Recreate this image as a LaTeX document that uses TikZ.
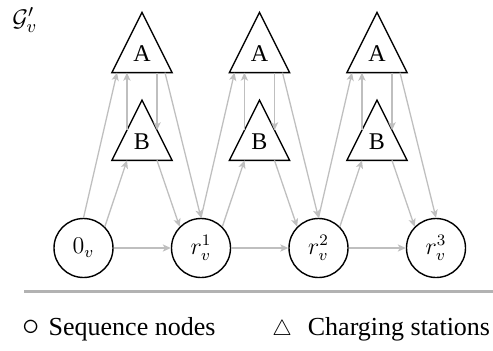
\documentclass[tikz,border=0pt]{standalone}
\usepackage{fontspec}
\setmainfont{Liberation Serif}
\usetikzlibrary{arrows.meta,calc}
\begin{document}
\begin{tikzpicture}[x=0.5pt,y=-0.5pt,
  seq/.style={circle,draw=black,line width=0.7pt,minimum size=29.5pt,inner sep=0pt,font=\fontsize{12}{14}\selectfont},
  tri/.style={rectangle,minimum width=29.75pt,minimum height=29.75pt,inner sep=0pt},
  lab/.style={inner sep=0pt,yshift=-5.75pt,font=\fontsize{12}{14}\selectfont},
  triborder/.style={draw=black,line width=0.7pt,line join=miter},
  edge/.style={draw=black!25,line width=0.65pt,-{Stealth[length=4pt,width=3.6pt,inset=1pt]}},
  legtext/.style={anchor=base west,inner sep=0pt,font=\fontsize{13}{15}\selectfont},
]
\useasboundingbox (0,0) rectangle (493,350);

% sequence nodes
\node[seq] (c0) at (83.5,248) {$0_v$};
\node[seq] (c1) at (201,248) {$r_v^1$};
\node[seq] (c2) at (318.5,248) {$r_v^2$};
\node[seq] (c3) at (436,248) {$r_v^3$};

% charging stations
\foreach \i/\x in {1/142,2/259.5,3/377} {
  \node[tri,label={[lab]center:A}] (A\i) at (\x,42.5) {};
  \node[tri,label={[lab]center:B}] (B\i) at (\x,130.25) {};
}
\foreach \n in {A1,A2,A3,B1,B2,B3}
  \draw[triborder] (\n.south west) -- (\n.north) -- (\n.south east) -- cycle;

% connectors
\foreach \i/\l/\r in {1/c0/c1,2/c1/c2,3/c2/c3} {
  \coordinate (bl\i) at ($(B\i.north)!0.5!(B\i.south west)$);
  \coordinate (br\i) at ($(B\i.north)!0.5!(B\i.south east)$);
  \draw[edge] (\l.north) -- ($(A\i.south)+(-25,0)$);
  \draw[edge] (\l.45) -- ($(B\i.south)+(-15,0)$);
  \draw[edge] (bl\i) -- (bl\i |- A\i.south);
  \draw[edge] (br\i |- A\i.south) -- (br\i);
  \draw[edge] ($(A\i.south)+(23,0)$) -- (\r.north);
  \draw[edge] ($(B\i.south)+(15,0)$) -- (\r.135);
  \draw[edge] (\l.east) -- (\r.west);
}

% title
\node[anchor=north west,inner sep=0pt,font=\fontsize{13}{15}\selectfont] (title) at (12,7) {$\mathcal{G}'_v$};

% legend
\coordinate (rs) at (24,291.7);
\coordinate (re) at (493,291.7);
\draw[draw=black!30,line width=1.35pt] (rs) -- (re);
\node[legtext] (leg1) at (22,335) {{\fontsize{18}{18}\selectfont$\circ$}\hspace{4.5pt}Sequence nodes};
\node[legtext] (leg2) at (272,335) {{\fontsize{10.5}{10.5}\selectfont$\triangle$}\hspace{8pt}Charging stations};
\end{tikzpicture}
\end{document}
